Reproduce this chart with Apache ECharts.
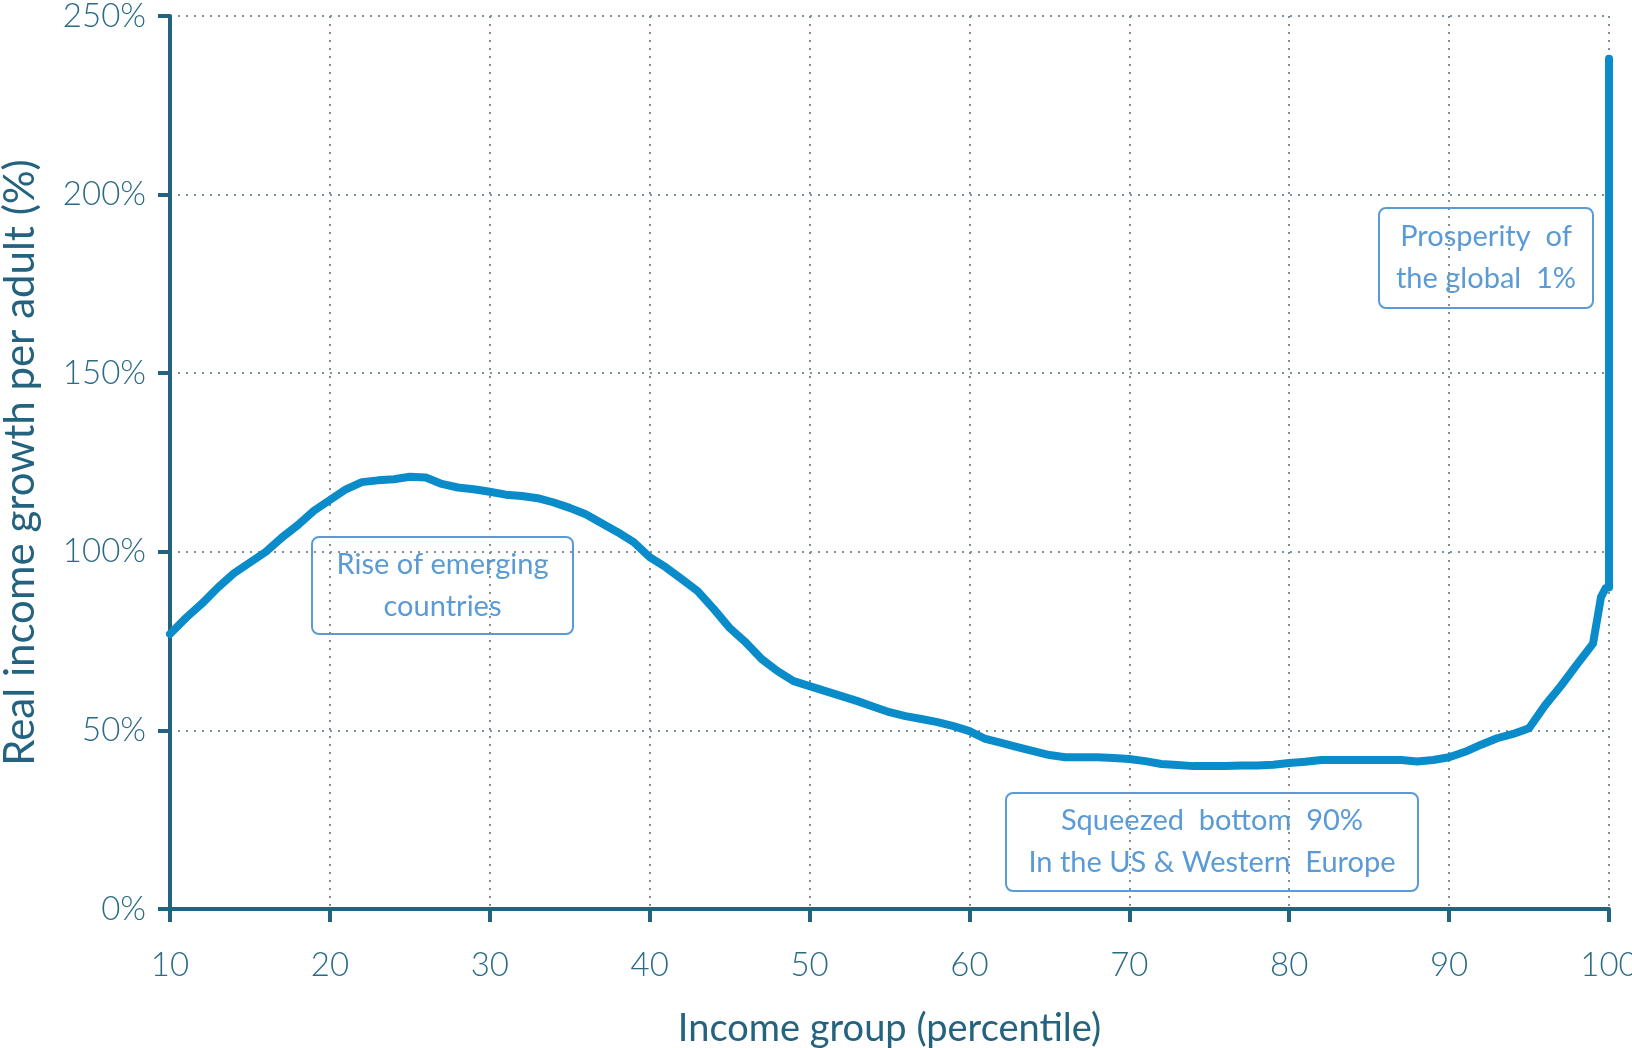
<!DOCTYPE html>
<html>
<head>
<meta charset="utf-8">
<script src="https://cdn.jsdelivr.net/npm/echarts@6/dist/echarts.min.js"></script>
<style>
html, body { margin: 0; padding: 0; background: #fff; }
#chart { width: 1632px; height: 1048px; }
</style>
</head>
<body>
<div id="chart"></div>
<script>
var percentiles = [10, 11, 12, 13, 14, 15, 16, 17, 18, 19,
	20, 21, 22, 23, 24, 25, 26, 27, 28, 29,
	30, 31, 32, 33, 34, 35, 36, 37, 38, 39,
	40, 41, 42, 43, 44, 45, 46, 47, 48, 49,
	50, 51, 52, 53, 54, 55, 56, 57, 58, 59,
	60, 61, 62, 63, 64, 65, 66, 67, 68, 69,
	70, 71, 72, 73, 74, 75, 76, 77, 78, 79,
	80, 81, 82, 83, 84, 85, 86, 87, 88, 89,
	90, 91, 92, 93, 94, 95, 96, 97, 98, 99,
	99.5, 99.8, 100, 100];
var growth = [77, 81.5, 85.5, 90, 94, 97, 100, 104, 107.5, 111.5,
	114.5, 117.5, 119.5, 120, 120.3, 121, 120.8, 119, 118, 117.5,
	116.8, 116, 115.6, 115, 113.8, 112.3, 110.5, 108, 105.5, 102.7,
	98.5, 95.7, 92.4, 89, 84, 78.7, 74.7, 70, 66.6, 63.8,
	62.4, 61, 59.6, 58.2, 56.6, 55.1, 54, 53.2, 52.3, 51.2,
	49.8, 47.6, 46.5, 45.3, 44.2, 43.1, 42.5, 42.5, 42.5, 42.3,
	42, 41.4, 40.6, 40.3, 40, 40, 40, 40.2, 40.2, 40.4,
	40.9, 41.2, 41.7, 41.7, 41.7, 41.7, 41.7, 41.7, 41.3, 41.7,
	42.5, 44, 46, 47.8, 49, 50.6, 57, 62.5, 68.5, 74.3,
	87.3, 89.9, 90, 238];
var xTicks = [10, 20, 30, 40, 50, 60, 70, 80, 90, 100];
var yTicks = [0, 50, 100, 150, 200, 250];

// annotation boxes (pixel layout)
var notes = [
	{ lines: ['Rise of emerging', 'countries'], x: 311, y: 536, w: 261, h: 97 },
	{ lines: ['Squeezed  bottom  90%', 'In the US & Western  Europe'], x: 1005, y: 792, w: 412, h: 98 },
	{ lines: ['Prosperity  of', 'the global  1%'], x: 1378, y: 207, w: 214, h: 100 }
];

var axisColor = '#24637f';
var noteColor = '#5b9bd5';

var chart = echarts.init(document.getElementById('chart'));

var points = percentiles.map(function (p, i) { return [p, growth[i]]; });

var graphics = notes.map(function (n) {
	return {
		type: 'group',
		left: n.x,
		top: n.y,
		children: [
			{
				type: 'rect',
				shape: { x: 0, y: 0, width: n.w, height: n.h, r: 7 },
				style: { fill: '#fff', stroke: noteColor, lineWidth: 2 }
			},
			{
				type: 'text',
				x: n.w / 2,
				y: n.h / 2,
				style: {
					text: n.lines.join('\n'),
					font: '400 29px Lato',
					fill: noteColor,
					align: 'center',
					verticalAlign: 'middle',
					lineHeight: 42
				}
			}
		]
	};
});

chart.setOption({
	animation: false,
	grid: { left: 170, right: 23, top: 16, bottom: 139, containLabel: false, outerBoundsMode: 'none' },
	xAxis: {
		type: 'value',
		min: xTicks[0],
		max: xTicks[xTicks.length - 1],
		interval: 10,
		name: 'Income group (percentile)',
		nameLocation: 'middle',
		nameGap: 101,
		nameTextStyle: { fontFamily: 'Lato', fontSize: 38, color: axisColor },
		axisLine: { lineStyle: { color: axisColor, width: 4 } },
		axisTick: { length: 13, lineStyle: { color: axisColor, width: 4 } },
		axisLabel: { fontFamily: 'Lato', fontWeight: 300, fontSize: 33, color: '#2b6b86', margin: 40 },
		splitLine: { show: true, lineStyle: { color: '#7f8f99', width: 2, type: [2, 6] } }
	},
	yAxis: {
		type: 'value',
		min: yTicks[0],
		max: yTicks[yTicks.length - 1],
		interval: 50,
		name: 'Real income growth per adult (%)',
		nameLocation: 'middle',
		nameGap: 129,
		nameTextStyle: { fontFamily: 'Lato', fontSize: 42, color: axisColor },
		axisLine: { show: true, lineStyle: { color: axisColor, width: 4 } },
		axisTick: { show: true, length: 12, lineStyle: { color: axisColor, width: 4 } },
		axisLabel: { fontFamily: 'Lato', fontWeight: 300, fontSize: 33, color: '#2b6b86', margin: 24, formatter: '{value}%' },
		splitLine: { show: true, lineStyle: { color: '#7f8f99', width: 2, type: [2, 6] } }
	},
	series: [{
		type: 'line',
		data: points,
		showSymbol: false,
		smooth: false,
		lineStyle: { color: '#0a8cca', width: 8, cap: 'round', join: 'round' }
	}],
	graphic: graphics
});
</script>
</body>
</html>
